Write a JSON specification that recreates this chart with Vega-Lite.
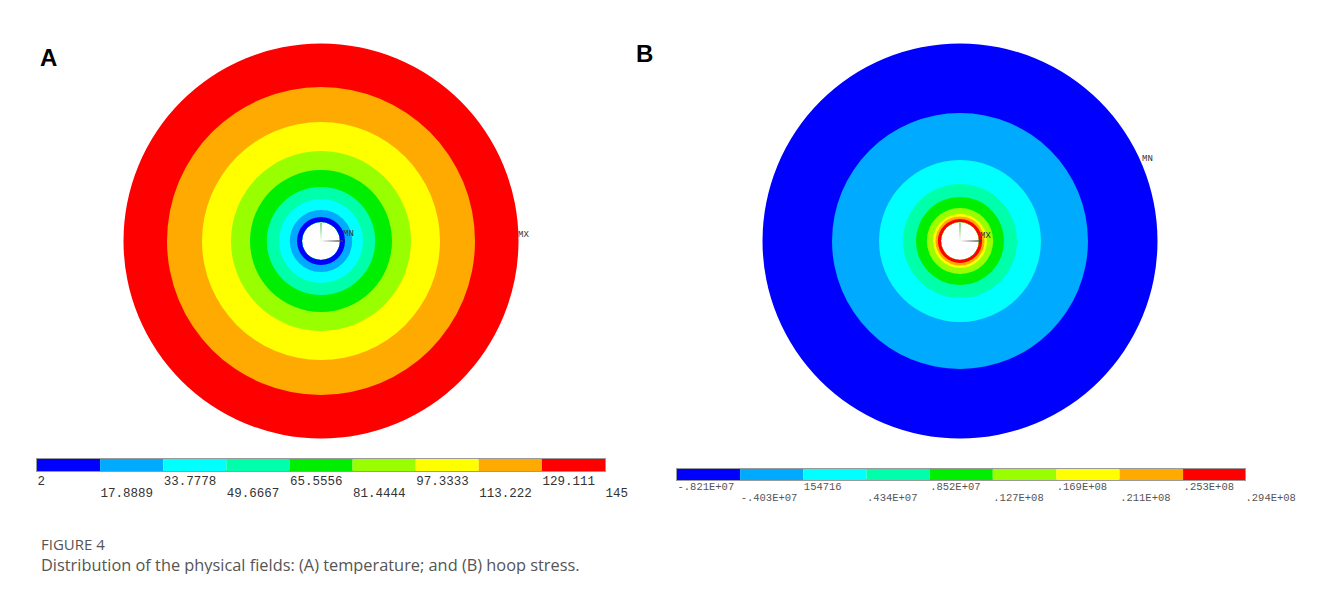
{
  "$schema": "https://vega.github.io/schema/vega-lite/v6.json",
  "padding": {"left": 36, "top": 43, "right": 0, "bottom": 0},
  "autosize": {"type": "pad"},
  "background": "white",
  "spacing": 7,
  "title": {
    "text": "FIGURE 4",
    "subtitle": "Distribution of the physical fields: (A) temperature; and (B) hoop stress.",
    "orient": "bottom", "anchor": "start", "frame": "group", "offset": 34, "dx": 4,
    "font": "Open Sans", "fontSize": 15, "fontWeight": "normal", "color": "#555555",
    "subtitleFont": "Open Sans", "subtitleFontSize": 16.35, "subtitleColor": "#555555", "subtitlePadding": 5
  },
  "resolve": {"scale": {"color": "independent", "x": "independent", "radius": "independent", "theta": "independent"}},
  "datasets": {
    "ringsA": [
      {"band": 9, "r_out": 1.0, "r_in": 0.0962},
      {"band": 8, "r_out": 0.7797, "r_in": 0.0962},
      {"band": 7, "r_out": 0.6025, "r_in": 0.0962},
      {"band": 6, "r_out": 0.4557, "r_in": 0.0962},
      {"band": 5, "r_out": 0.3595, "r_in": 0.0962},
      {"band": 4, "r_out": 0.2734, "r_in": 0.0962},
      {"band": 3, "r_out": 0.2127, "r_in": 0.0962},
      {"band": 2, "r_out": 0.157, "r_in": 0.0962},
      {"band": 1, "r_out": 0.1215, "r_in": 0.0962}
    ],
    "ringsB": [
      {"band": 1, "r_out": 1.0, "r_in": 0.0962},
      {"band": 2, "r_out": 0.648, "r_in": 0.0962},
      {"band": 3, "r_out": 0.41, "r_in": 0.0962},
      {"band": 4, "r_out": 0.2886, "r_in": 0.0962},
      {"band": 5, "r_out": 0.2228, "r_in": 0.0962},
      {"band": 6, "r_out": 0.167, "r_in": 0.0962},
      {"band": 7, "r_out": 0.1367, "r_in": 0.0962},
      {"band": 8, "r_out": 0.124, "r_in": 0.0962},
      {"band": 9, "r_out": 0.1114, "r_in": 0.0962}
    ],
    "markersA": [
      {"label": "MX", "r": 0.998, "ang": 88.0},
      {"label": "MN", "r": 0.1185, "ang": 70.0}
    ],
    "markersB": [
      {"label": "MX", "r": 0.106, "ang": 73.3},
      {"label": "MN", "r": 1.013, "ang": 65.5}
    ],
    "triadY": [{"axis": "Y", "a0": -2, "a1": 2, "r": 0.092}],
    "triadX": [{"axis": "X", "a0": 88, "a1": 92, "r": 0.11}],
    "bandsA": [
      {"band": 1, "lo": 2, "hi": 17.8889},
      {"band": 2, "lo": 17.8889, "hi": 33.7778},
      {"band": 3, "lo": 33.7778, "hi": 49.6667},
      {"band": 4, "lo": 49.6667, "hi": 65.5556},
      {"band": 5, "lo": 65.5556, "hi": 81.4444},
      {"band": 6, "lo": 81.4444, "hi": 97.3333},
      {"band": 7, "lo": 97.3333, "hi": 113.222},
      {"band": 8, "lo": 113.222, "hi": 129.111},
      {"band": 9, "lo": 129.111, "hi": 145}
    ],
    "bandsB": [
      {"band": 1, "lo": -8210000, "hi": -4030000},
      {"band": 2, "lo": -4030000, "hi": 154716},
      {"band": 3, "lo": 154716, "hi": 4340000},
      {"band": 4, "lo": 4340000, "hi": 8520000},
      {"band": 5, "lo": 8520000, "hi": 12700000},
      {"band": 6, "lo": 12700000, "hi": 16900000},
      {"band": 7, "lo": 16900000, "hi": 21100000},
      {"band": 8, "lo": 21100000, "hi": 25300000},
      {"band": 9, "lo": 25300000, "hi": 29400000}
    ]
  },
  "hconcat": [
    {
      "spacing": 19,
      "resolve": {"scale": {"color": "independent", "x": "independent", "radius": "independent", "theta": "independent"}},
      "vconcat": [
        {
          "width": 568, "height": 396,
          "title": {"text": "A", "anchor": "start", "frame": "group", "dx": 3, "dy": 28, "offset": 0, "fontSize": 24, "font": "Liberation Sans", "fontWeight": "bold", "color": "#000000"},
          "layer": [
            {
              "data": {"name": "ringsA"},
              "mark": {"type": "arc", "theta": 0, "theta2": 6.283185, "strokeWidth": 0},
              "encoding": {
                "radius": {"field": "r_out", "type": "quantitative", "scale": {"type": "linear", "domain": [0, 1], "range": [0, 197.5], "zero": true, "nice": false}},
                "radius2": {"field": "r_in"},
                "color": {"field": "band", "type": "ordinal", "legend": null, "scale": {"domain": [1, 2, 3, 4, 5, 6, 7, 8, 9], "range": ["#0000FF", "#00AAFF", "#00FFFF", "#00FFAA", "#00EE00", "#99FF00", "#FFFF00", "#FFAA00", "#FF0000"]}}
              }
            },
            {
              "data": {"name": "triadY"},
              "mark": {"type": "arc", "color": "#44BB44", "strokeWidth": 0},
              "encoding": {
                "theta": {"field": "a0", "type": "quantitative", "stack": null, "scale": {"type": "linear", "domain": [0, 360], "range": [0, 6.283185], "zero": true, "nice": false}},
                "theta2": {"field": "a1"},
                "radius": {"field": "r", "type": "quantitative"}
              }
            },
            {
              "data": {"name": "triadX"},
              "mark": {"type": "arc", "color": "#444444", "strokeWidth": 0},
              "encoding": {
                "theta": {"field": "a0", "type": "quantitative", "stack": null},
                "theta2": {"field": "a1"},
                "radius": {"field": "r", "type": "quantitative"}
              }
            },
            {
              "data": {"name": "markersA"},
              "mark": {"type": "text", "align": "left", "baseline": "middle", "font": "Liberation Mono", "fontSize": 9, "color": "#333333"},
              "encoding": {
                "theta": {"field": "ang", "type": "quantitative"},
                "radius": {"field": "r", "type": "quantitative"},
                "text": {"field": "label"}
              }
            }
          ]
        },
        {
          "width": 568, "height": 12,
          "view": {"stroke": "#9a9a9a", "strokeWidth": 2},
          "data": {"name": "bandsA"},
          "mark": {"type": "rect"},
          "encoding": {
            "x": {"field": "lo", "type": "quantitative", "scale": {"domain": [2, 145], "nice": false, "zero": false},
              "axis": {"values": [2, 17.8889, 33.7778, 49.6667, 65.5556, 81.4444, 97.3333, 113.222, 129.111, 145], "format": ".6~r", "title": null, "ticks": false, "domain": false, "grid": false, "labelAlign": "left", "labelBaseline": "top", "labelPadding": 3, "labelFont": "Liberation Mono", "labelFontSize": 12.5, "labelColor": "#333333", "labelOverlap": false, "labelFlush": false, "labelBound": false, "labelLineHeight": 12, "labelExpr": "round(datum.index*9)%2==1 ? ['', datum.label] : datum.label"}},
            "x2": {"field": "hi"},
            "color": {"field": "band", "type": "ordinal", "legend": null, "scale": {"domain": [1, 2, 3, 4, 5, 6, 7, 8, 9], "range": ["#0000FF", "#00AAFF", "#00FFFF", "#00FFAA", "#00EE00", "#99FF00", "#FFFF00", "#FFAA00", "#FF0000"]}}
          }
        }
      ]
    },
    {
      "spacing": 29,
      "resolve": {"scale": {"color": "independent", "x": "independent", "radius": "independent", "theta": "independent"}},
      "vconcat": [
        {
          "width": 566, "height": 396,
          "title": {"text": "B", "anchor": "start", "frame": "group", "dx": -41, "dy": 24, "offset": 0, "fontSize": 24, "font": "Liberation Sans", "fontWeight": "bold", "color": "#000000"},
          "layer": [
            {
              "data": {"name": "ringsB"},
              "mark": {"type": "arc", "theta": 0, "theta2": 6.283185, "strokeWidth": 0},
              "encoding": {
                "radius": {"field": "r_out", "type": "quantitative", "scale": {"type": "linear", "domain": [0, 1], "range": [0, 197.5], "zero": true, "nice": false}},
                "radius2": {"field": "r_in"},
                "color": {"field": "band", "type": "ordinal", "legend": null, "scale": {"domain": [1, 2, 3, 4, 5, 6, 7, 8, 9], "range": ["#0000FF", "#00AAFF", "#00FFFF", "#00FFAA", "#00EE00", "#99FF00", "#FFFF00", "#FFAA00", "#FF0000"]}}
              }
            },
            {
              "data": {"name": "triadY"},
              "mark": {"type": "arc", "color": "#44BB44", "strokeWidth": 0},
              "encoding": {
                "theta": {"field": "a0", "type": "quantitative", "stack": null, "scale": {"type": "linear", "domain": [0, 360], "range": [0, 6.283185], "zero": true, "nice": false}},
                "theta2": {"field": "a1"},
                "radius": {"field": "r", "type": "quantitative"}
              }
            },
            {
              "data": {"name": "triadX"},
              "mark": {"type": "arc", "color": "#444444", "strokeWidth": 0},
              "encoding": {
                "theta": {"field": "a0", "type": "quantitative", "stack": null},
                "theta2": {"field": "a1"},
                "radius": {"field": "r", "type": "quantitative"}
              }
            },
            {
              "data": {"name": "markersB"},
              "mark": {"type": "text", "align": "left", "baseline": "middle", "font": "Liberation Mono", "fontSize": 9, "color": "#333333"},
              "encoding": {
                "theta": {"field": "ang", "type": "quantitative"},
                "radius": {"field": "r", "type": "quantitative"},
                "text": {"field": "label"}
              }
            }
          ]
        },
        {
          "width": 568, "height": 11,
          "view": {"stroke": "#9a9a9a", "strokeWidth": 2},
          "data": {"name": "bandsB"},
          "mark": {"type": "rect"},
          "encoding": {
            "x": {"field": "lo", "type": "quantitative", "scale": {"domain": [-8210000, 29400000], "nice": false, "zero": false},
              "axis": {"values": [-8210000, -4030000, 154716, 4340000, 8520000, 12700000, 16900000, 21100000, 25300000, 29400000], "title": null, "ticks": false, "domain": false, "grid": false, "labelAlign": "left", "labelBaseline": "top", "labelPadding": 1, "labelFont": "Liberation Mono", "labelFontSize": 10.5, "labelColor": "#555555", "labelOverlap": false, "labelFlush": false, "labelBound": false, "labelLineHeight": 11, "labelExpr": "(round(datum.index*9)%2==1 ? ['', ['-.821E+07','-.403E+07','154716','.434E+07','.852E+07','.127E+08','.169E+08','.211E+08','.253E+08','.294E+08'][round(datum.index*9)]] : ['-.821E+07','-.403E+07','154716','.434E+07','.852E+07','.127E+08','.169E+08','.211E+08','.253E+08','.294E+08'][round(datum.index*9)])"}},
            "x2": {"field": "hi"},
            "color": {"field": "band", "type": "ordinal", "legend": null, "scale": {"domain": [1, 2, 3, 4, 5, 6, 7, 8, 9], "range": ["#0000FF", "#00AAFF", "#00FFFF", "#00FFAA", "#00EE00", "#99FF00", "#FFFF00", "#FFAA00", "#FF0000"]}}
          }
        }
      ]
    }
  ],
  "config": {"view": {"stroke": null}}
}
